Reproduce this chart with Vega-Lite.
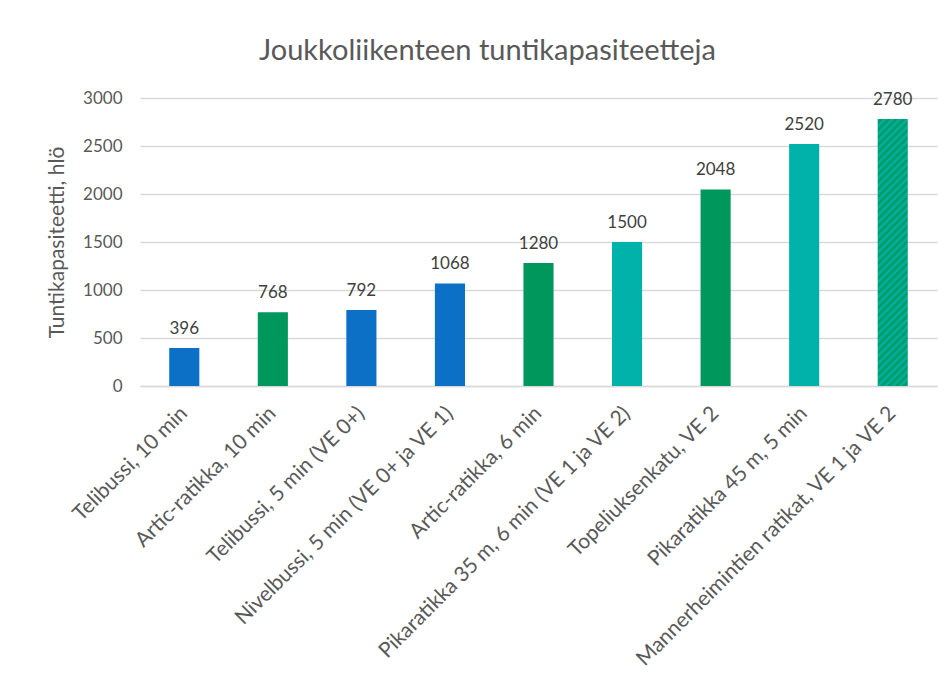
{
  "$schema": "https://vega.github.io/schema/vega-lite/v6.json",
  "autosize": {"type": "none"},
  "width": 797,
  "height": 288,
  "padding": {"left": 140, "top": 98, "right": 10, "bottom": 307},
  "background": "white",
  "title": {
    "text": "Joukkoliikenteen tuntikapasiteetteja",
    "font": "Lato",
    "fontSize": 29,
    "fontWeight": "normal",
    "color": "#595959",
    "anchor": "middle",
    "frame": "group",
    "dx": -51,
    "offset": 23
  },
  "data": {
    "values": [
      {"label": "Telibussi, 10 min", "value": 396, "group": "bussi"},
      {"label": "Artic-ratikka, 10 min", "value": 768, "group": "ratikka"},
      {"label": "Telibussi, 5 min (VE 0+)", "value": 792, "group": "bussi"},
      {"label": "Nivelbussi, 5 min (VE 0+ ja VE 1)", "value": 1068, "group": "bussi"},
      {"label": "Artic-ratikka, 6 min", "value": 1280, "group": "ratikka"},
      {"label": "Pikaratikka 35 m, 6 min (VE 1 ja VE 2)", "value": 1500, "group": "pikaratikka"},
      {"label": "Topeliuksenkatu, VE 2", "value": 2048, "group": "ratikka"},
      {"label": "Pikaratikka 45 m, 5 min", "value": 2520, "group": "pikaratikka"},
      {"label": "Mannerheimintien ratikat, VE 1 ja VE 2", "value": 2780, "group": "yhdistetty"}
    ]
  },
  "encoding": {
    "x": {
      "field": "label",
      "type": "nominal",
      "sort": null,
      "scale": {"paddingInner": 0.66, "paddingOuter": 0.33},
      "axis": {
        "title": null,
        "labelAngle": -45,
        "labelAlign": "right",
        "labelBaseline": "middle",
        "labelFont": "Lato",
        "labelFontSize": 21,
        "labelColor": "#595959",
        "labelPadding": 24,
        "labelLimit": 500,
        "ticks": false,
        "domainColor": "#d9d9d9",
        "domainWidth": 1.5
      }
    },
    "y": {
      "field": "value",
      "type": "quantitative",
      "scale": {"domain": [0, 3000]},
      "axis": {
        "title": "Tuntikapasiteetti, hlö",
        "titleFont": "Lato",
        "titleFontSize": 21,
        "titleFontWeight": "normal",
        "titleColor": "#595959",
        "titlePadding": 15,
        "values": [0, 500, 1000, 1500, 2000, 2500, 3000],
        "format": "d",
        "labelFont": "Lato",
        "labelFontSize": 17,
        "labelColor": "#595959",
        "labelPadding": 18,
        "ticks": false,
        "domain": false,
        "gridColor": "#d9d9d9",
        "gridWidth": 1.5
      }
    }
  },
  "layer": [
    {
      "transform": [{"filter": "datum.group !== 'yhdistetty'"}],
      "mark": {"type": "bar"},
      "encoding": {
        "color": {
          "field": "group",
          "type": "nominal",
          "scale": {"domain": ["bussi", "ratikka", "pikaratikka"], "range": ["#0b70c6", "#00975c", "#00b2a9"]},
          "legend": null
        }
      }
    },
    {
      "transform": [{"filter": "datum.group === 'yhdistetty'"}],
      "mark": {
        "type": "bar",
        "color": {
          "gradient": "linear",
          "x1": 0, "y1": 0, "x2": 0.123, "y2": 1.098,
          "stops": [
            {"offset": 0, "color": "#00b2a9"}, {"offset": 0.0125, "color": "#00975c"},
            {"offset": 0.025, "color": "#00b2a9"}, {"offset": 0.0375, "color": "#00975c"},
            {"offset": 0.05, "color": "#00b2a9"}, {"offset": 0.0625, "color": "#00975c"},
            {"offset": 0.075, "color": "#00b2a9"}, {"offset": 0.0875, "color": "#00975c"},
            {"offset": 0.1, "color": "#00b2a9"}, {"offset": 0.1125, "color": "#00975c"},
            {"offset": 0.125, "color": "#00b2a9"}, {"offset": 0.1375, "color": "#00975c"},
            {"offset": 0.15, "color": "#00b2a9"}, {"offset": 0.1625, "color": "#00975c"},
            {"offset": 0.175, "color": "#00b2a9"}, {"offset": 0.1875, "color": "#00975c"},
            {"offset": 0.2, "color": "#00b2a9"}, {"offset": 0.2125, "color": "#00975c"},
            {"offset": 0.225, "color": "#00b2a9"}, {"offset": 0.2375, "color": "#00975c"},
            {"offset": 0.25, "color": "#00b2a9"}, {"offset": 0.2625, "color": "#00975c"},
            {"offset": 0.275, "color": "#00b2a9"}, {"offset": 0.2875, "color": "#00975c"},
            {"offset": 0.3, "color": "#00b2a9"}, {"offset": 0.3125, "color": "#00975c"},
            {"offset": 0.325, "color": "#00b2a9"}, {"offset": 0.3375, "color": "#00975c"},
            {"offset": 0.35, "color": "#00b2a9"}, {"offset": 0.3625, "color": "#00975c"},
            {"offset": 0.375, "color": "#00b2a9"}, {"offset": 0.3875, "color": "#00975c"},
            {"offset": 0.4, "color": "#00b2a9"}, {"offset": 0.4125, "color": "#00975c"},
            {"offset": 0.425, "color": "#00b2a9"}, {"offset": 0.4375, "color": "#00975c"},
            {"offset": 0.45, "color": "#00b2a9"}, {"offset": 0.4625, "color": "#00975c"},
            {"offset": 0.475, "color": "#00b2a9"}, {"offset": 0.4875, "color": "#00975c"},
            {"offset": 0.5, "color": "#00b2a9"}, {"offset": 0.5125, "color": "#00975c"},
            {"offset": 0.525, "color": "#00b2a9"}, {"offset": 0.5375, "color": "#00975c"},
            {"offset": 0.55, "color": "#00b2a9"}, {"offset": 0.5625, "color": "#00975c"},
            {"offset": 0.575, "color": "#00b2a9"}, {"offset": 0.5875, "color": "#00975c"},
            {"offset": 0.6, "color": "#00b2a9"}, {"offset": 0.6125, "color": "#00975c"},
            {"offset": 0.625, "color": "#00b2a9"}, {"offset": 0.6375, "color": "#00975c"},
            {"offset": 0.65, "color": "#00b2a9"}, {"offset": 0.6625, "color": "#00975c"},
            {"offset": 0.675, "color": "#00b2a9"}, {"offset": 0.6875, "color": "#00975c"},
            {"offset": 0.7, "color": "#00b2a9"}, {"offset": 0.7125, "color": "#00975c"},
            {"offset": 0.725, "color": "#00b2a9"}, {"offset": 0.7375, "color": "#00975c"},
            {"offset": 0.75, "color": "#00b2a9"}, {"offset": 0.7625, "color": "#00975c"},
            {"offset": 0.775, "color": "#00b2a9"}, {"offset": 0.7875, "color": "#00975c"},
            {"offset": 0.8, "color": "#00b2a9"}, {"offset": 0.8125, "color": "#00975c"},
            {"offset": 0.825, "color": "#00b2a9"}, {"offset": 0.8375, "color": "#00975c"},
            {"offset": 0.85, "color": "#00b2a9"}, {"offset": 0.8625, "color": "#00975c"},
            {"offset": 0.875, "color": "#00b2a9"}, {"offset": 0.8875, "color": "#00975c"},
            {"offset": 0.9, "color": "#00b2a9"}, {"offset": 0.9125, "color": "#00975c"},
            {"offset": 0.925, "color": "#00b2a9"}, {"offset": 0.9375, "color": "#00975c"},
            {"offset": 0.95, "color": "#00b2a9"}, {"offset": 0.9625, "color": "#00975c"},
            {"offset": 0.975, "color": "#00b2a9"}, {"offset": 0.9875, "color": "#00975c"},
            {"offset": 1, "color": "#00b2a9"}
          ]
        }
      }
    },
    {
      "mark": {"type": "text", "font": "Lato", "fontSize": 17, "color": "#404040", "baseline": "bottom", "dy": -10},
      "encoding": {"text": {"field": "value", "type": "quantitative"}}
    }
  ],
  "config": {"view": {"stroke": null}}
}
